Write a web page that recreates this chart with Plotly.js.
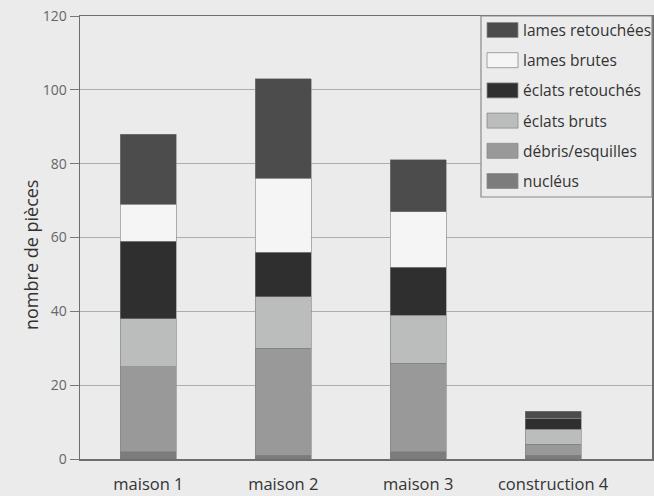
<!DOCTYPE html>
<html>
<head>
<meta charset="utf-8">
<script src="https://cdn.plot.ly/plotly-3.0.1.min.js"></script>
<style>html,body{margin:0;padding:0;background:#ebebeb;}#chart{width:654px;height:496px;}</style>
</head>
<body>
<div id="chart"></div>
<script>
// Data
const categories = ['maison 1', 'maison 2', 'maison 3', 'construction 4'];
const nucleus = [2, 1, 2, 1];
const debrisEsquilles = [23, 29, 24, 3];
const eclatsBruts = [13, 14, 13, 4];
const eclatsRetouches = [21, 12, 13, 3];
const lamesBrutes = [10, 20, 15, 0];
const lamesRetouchees = [19, 27, 14, 2];
const yTicks = [0, 20, 40, 60, 80, 100, 120];
const yTitle = 'nombre de pièces';

// series stacked bottom → top
const seriesNames = ['nucléus', 'débris/esquilles', 'éclats bruts', 'éclats retouchés', 'lames brutes', 'lames retouchées'];
const seriesValues = [nucleus, debrisEsquilles, eclatsBruts, eclatsRetouches, lamesBrutes, lamesRetouchees];
const seriesColors = ['#7c7c7c', '#999999', '#babdbb', '#2f2f2f', '#f5f5f5', '#4c4c4c'];

const bg = '#ebebeb';
const traces = seriesNames.map((n, i) => ({
  type: 'bar', name: n, x: categories, y: seriesValues[i],
  marker: {color: seriesColors[i], line: {color: '#808080', width: 0.6}},
  showlegend: false, hoverinfo: 'x+y+name'
}));

// manual legend (top entry first)
const L = 80, W = 572, T = 16, H = 443;
const px = v => (v - L) / W;
const py = v => (T + H - v) / H;
const shapes = [{
  type: 'rect', xref: 'paper', yref: 'paper', layer: 'above',
  x0: px(481), x1: 1, y0: py(197), y1: 1,
  fillcolor: bg, line: {color: '#8a8a8a', width: 1.2}
}];
const annotations = [{
  xref: 'paper', yref: 'paper', x: px(31), y: py(255), xanchor: 'center', yanchor: 'middle',
  text: yTitle, textangle: -90, showarrow: false,
  font: {family: 'Open Sans, sans-serif', size: 18, color: '#333333'}
}];
const order = [5, 4, 3, 2, 1, 0];
order.forEach((si, k) => {
  const cy = 30 + k * 30.2;
  shapes.push({
    type: 'rect', xref: 'paper', yref: 'paper', layer: 'above',
    x0: px(487), x1: px(518), y0: py(cy + 7.5), y1: py(cy - 7.5),
    fillcolor: seriesColors[si], line: {color: '#8a8a8a', width: 0.8}
  });
  annotations.push({
    xref: 'paper', yref: 'paper', x: px(521), y: py(cy), xanchor: 'left', yanchor: 'middle',
    text: seriesNames[si], showarrow: false,
    font: {family: 'Open Sans, sans-serif', size: 15.5, color: '#333333'}
  });
});

const layout = {
  width: 654, height: 496,
  paper_bgcolor: bg, plot_bgcolor: bg,
  margin: {l: L, r: 654 - L - W, t: T, b: 496 - T - H, pad: 0},
  barmode: 'stack', bargap: 0.585,
  showlegend: false,
  xaxis: {
    type: 'category', range: [-0.507, 3.733],
    showline: true, linecolor: '#6e6e6e', linewidth: 1.5, mirror: true,
    ticks: '', showgrid: false, ticklabelstandoff: 10,
    tickfont: {family: 'Open Sans, sans-serif', size: 16.5, color: '#333333'}
  },
  yaxis: {
    range: [0, 120], tickvals: yTicks, ticktext: yTicks.map(String),
    showline: true, linecolor: '#6e6e6e', linewidth: 1.5, mirror: true,
    ticks: 'outside', ticklen: 9, tickcolor: '#777777', tickwidth: 1,
    showgrid: true, gridcolor: '#aaaeb4', gridwidth: 1, zeroline: false,
    tickfont: {family: 'Open Sans, sans-serif', size: 14, color: '#666666'}
  },
  shapes: shapes,
  annotations: annotations
};

Plotly.newPlot('chart', traces, layout, {displayModeBar: false, staticPlot: true});
</script>
</body>
</html>
